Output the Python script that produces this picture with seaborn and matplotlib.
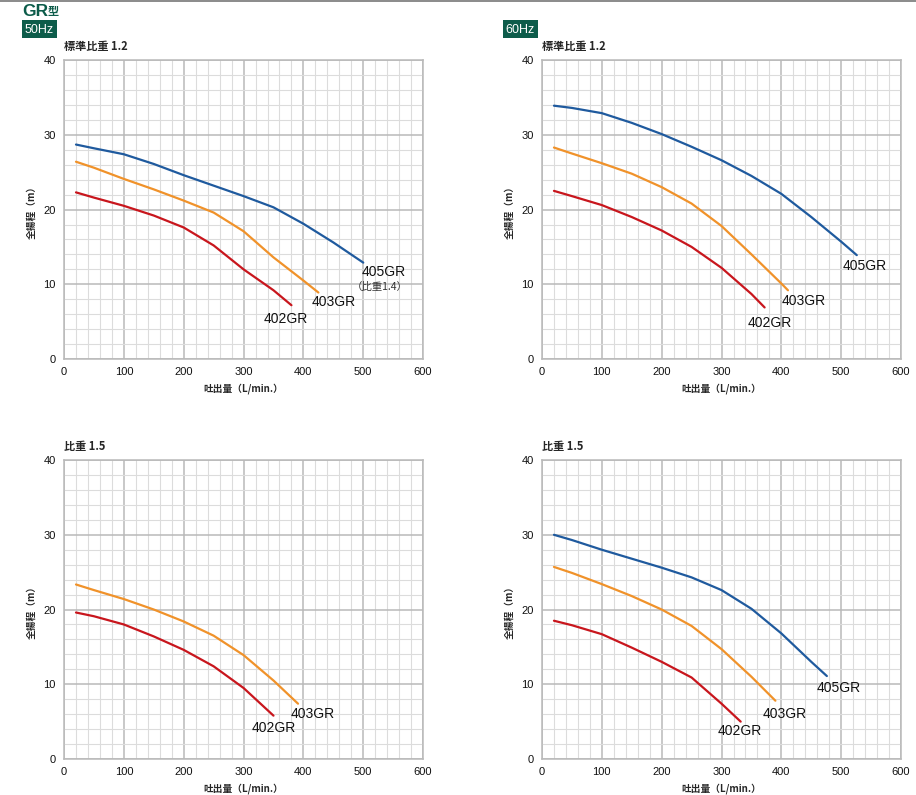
import numpy as np
import pandas as pd
import matplotlib.pyplot as plt
import seaborn as sns
from matplotlib.ticker import MultipleLocator
from matplotlib.patches import Rectangle

sns.set_style("white")
plt.rcParams['font.family'] = ['Liberation Sans', 'Noto Sans CJK JP', 'DejaVu Sans']

BLUE = "#1f5a9e"
ORANGE = "#f0922a"
RED = "#c8161d"
GREEN = "#0d5c4a"

# 50Hz, 標準比重 1.2
q_50_405 = [20, 50, 100, 150, 200, 250, 300, 350, 400, 450, 500]
h_50_405 = [28.7, 28.2, 27.4, 26.1, 24.6, 23.2, 21.8, 20.3, 18.1, 15.6, 12.9]
q_50_403 = [20, 50, 100, 150, 200, 250, 300, 350, 400, 425]
h_50_403 = [26.4, 25.6, 24.1, 22.7, 21.2, 19.6, 17.1, 13.6, 10.5, 8.9]
q_50_402 = [20, 50, 100, 150, 200, 250, 300, 350, 380]
h_50_402 = [22.3, 21.6, 20.5, 19.2, 17.6, 15.2, 12.0, 9.2, 7.2]

# 60Hz, 標準比重 1.2
q_60_405 = [20, 50, 100, 150, 200, 250, 300, 350, 400, 450, 500, 526]
h_60_405 = [33.9, 33.6, 32.9, 31.6, 30.1, 28.4, 26.6, 24.5, 22.1, 19.0, 15.7, 13.9]
q_60_403 = [20, 50, 100, 150, 200, 250, 300, 350, 400, 411]
h_60_403 = [28.3, 27.5, 26.2, 24.8, 23.0, 20.8, 17.8, 14.0, 10.1, 9.2]
q_60_402 = [20, 50, 100, 150, 200, 250, 300, 350, 372]
h_60_402 = [22.5, 21.8, 20.6, 19.0, 17.2, 15.0, 12.2, 8.7, 6.9]

# 50Hz, 比重 1.5
q_50b_403 = [20, 50, 100, 150, 200, 250, 300, 350, 391]
h_50b_403 = [23.35, 22.6, 21.4, 20.0, 18.4, 16.5, 13.9, 10.5, 7.4]
q_50b_402 = [20, 50, 100, 150, 200, 250, 300, 350]
h_50b_402 = [19.6, 19.1, 18.0, 16.4, 14.6, 12.4, 9.5, 5.8]

# 60Hz, 比重 1.5
q_60b_405 = [20, 50, 100, 150, 200, 250, 300, 350, 400, 450, 476]
h_60b_405 = [30.0, 29.3, 28.0, 26.8, 25.6, 24.3, 22.6, 20.1, 16.8, 13.0, 11.1]
q_60b_403 = [20, 50, 100, 150, 200, 250, 300, 350, 390]
h_60b_403 = [25.7, 24.9, 23.4, 21.8, 20.0, 17.8, 14.7, 11.0, 7.8]
q_60b_402 = [20, 50, 100, 150, 200, 250, 300, 332]
h_60b_402 = [18.5, 17.9, 16.7, 14.9, 13.0, 10.9, 7.4, 5.0]

panels = [
    # rect, title, curves, labels
    ([0.0699, 0.5484, 0.392, 0.376], "標準比重 1.2",
     [(q_50_405, h_50_405, BLUE), (q_50_403, h_50_403, ORANGE), (q_50_402, h_50_402, RED)],
     [(534, 11.6, "405GR"), (450, 7.6, "403GR"), (370, 5.4, "402GR")]),
    ([0.5917, 0.5484, 0.392, 0.376], "標準比重 1.2",
     [(q_60_405, h_60_405, BLUE), (q_60_403, h_60_403, ORANGE), (q_60_402, h_60_402, RED)],
     [(540, 12.5, "405GR"), (437, 7.8, "403GR"), (380, 4.8, "402GR")]),
    ([0.0699, 0.0453, 0.392, 0.376], "比重 1.5",
     [(q_50b_403, h_50b_403, ORANGE), (q_50b_402, h_50b_402, RED)],
     [(415, 6.0, "403GR"), (350, 4.1, "402GR")]),
    ([0.5917, 0.0453, 0.392, 0.376], "比重 1.5",
     [(q_60b_405, h_60b_405, BLUE), (q_60b_403, h_60b_403, ORANGE), (q_60b_402, h_60b_402, RED)],
     [(496, 9.5, "405GR"), (405, 6.0, "403GR"), (331, 3.7, "402GR")]),
]

fig = plt.figure(figsize=(9.16, 7.95), dpi=100)

for i, (rect, title, curves, labels) in enumerate(panels):
    ax = fig.add_axes(rect)
    for q, h, c in curves:
        df = pd.DataFrame({"q": q, "h": h})
        sns.lineplot(data=df, x="q", y="h", ax=ax, color=c, lw=1.6,
                     sort=False, estimator=None)
    ax.set_xlim(0, 600)
    ax.set_ylim(0, 40)
    ax.xaxis.set_major_locator(MultipleLocator(100))
    ax.xaxis.set_minor_locator(MultipleLocator(20))
    ax.yaxis.set_major_locator(MultipleLocator(10))
    ax.yaxis.set_minor_locator(MultipleLocator(2))
    ax.grid(which="minor", color="#dcdcdc", lw=0.8, zorder=0)
    ax.grid(which="major", color="#b9b9b9", lw=1.1, zorder=0)
    ax.set_axisbelow(True)
    for s in ax.spines.values():
        s.set_color("#b9b9b9")
        s.set_linewidth(1.1)
    ax.tick_params(which="both", length=0, labelsize=8, pad=6, colors="#111111")
    ax.set_xlabel("吐出量（L/min.）", fontsize=7, fontweight="bold", labelpad=4,
                  family=["Noto Sans CJK JP"])
    ax.set_ylabel("全揚程（m）", fontsize=7, fontweight="bold", labelpad=5,
                  family=["Noto Sans CJK JP"])
    ax.text(0, 40.9, title, fontsize=8, fontweight="bold", ha="left", va="bottom",
            family=["Noto Sans CJK JP"])
    for x, y, t in labels:
        ax.text(x, y, t, fontsize=10, ha="center", va="center", color="#111111")
    if i == 0:
        ax.text(527, 9.7, "（比重1.4）", fontsize=7.5, ha="center", va="center",
                color="#333333", family=["Noto Sans CJK JP"])

# header
fig.add_artist(plt.Line2D([0, 1], [0.999, 0.999], color="#777777", lw=1.2))
fig.text(22 / 916, 1 - 11.5 / 795, "GR", fontsize=12.5, fontweight="bold", color=GREEN,
         ha="left", va="center")
fig.text(48 / 916, 1 - 12 / 795, "型", fontsize=8, fontweight="bold", color=GREEN,
         ha="left", va="center", family=["Noto Sans CJK JP"])
for x0, t in [(22, "50Hz"), (503, "60Hz")]:
    fig.add_artist(Rectangle((x0 / 916, 1 - 38 / 795), 35 / 916, 18 / 795,
                             transform=fig.transFigure, fc=GREEN, ec="none"))
    fig.text((x0 + 17.5) / 916, 1 - 30 / 795, t, fontsize=9, color="white",
             ha="center", va="center")

fig.savefig("out.png", dpi=100)
